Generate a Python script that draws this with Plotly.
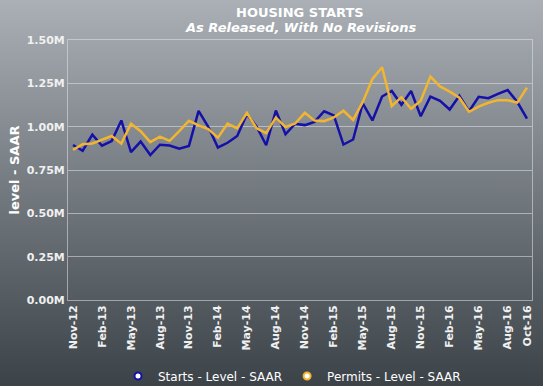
import base64
import plotly.graph_objects as go

months = ["Nov-12","Dec-12","Jan-13","Feb-13","Mar-13","Apr-13","May-13","Jun-13","Jul-13","Aug-13","Sep-13","Oct-13",
          "Nov-13","Dec-13","Jan-14","Feb-14","Mar-14","Apr-14","May-14","Jun-14","Jul-14","Aug-14","Sep-14","Oct-14",
          "Nov-14","Dec-14","Jan-15","Feb-15","Mar-15","Apr-15","May-15","Jun-15","Jul-15","Aug-15","Sep-15","Oct-15",
          "Nov-15","Dec-15","Jan-16","Feb-16","Mar-16","Apr-16","May-16","Jun-16","Jul-16","Aug-16","Sep-16","Oct-16"]

starts = [894, 861, 954, 890, 917, 1036, 853, 914, 836, 896, 891, 873,
          889, 1091, 999, 880, 907, 946, 1072, 1001, 893, 1093, 956, 1017,
          1009, 1028, 1089, 1065, 897, 926, 1135, 1036, 1174, 1206, 1126, 1206,
          1060, 1173, 1149, 1099, 1178, 1089, 1172, 1164, 1189, 1211, 1142, 1047]

permits = [866, 899, 903, 925, 946, 902, 1017, 974, 911, 943, 918, 974,
           1034, 1007, 986, 937, 1018, 990, 1080, 991, 963, 1052, 998, 1018,
           1080, 1035, 1032, 1053, 1092, 1039, 1143, 1275, 1343, 1119, 1170, 1103,
           1150, 1289, 1232, 1202, 1167, 1086, 1116, 1138, 1153, 1152, 1139, 1225]

tick_labels = ["Nov-12","Feb-13","May-13","Aug-13","Nov-13","Feb-14","May-14","Aug-14",
               "Nov-14","Feb-15","May-15","Aug-15","Nov-15","Feb-16","May-16","Aug-16","Oct-16"]
y_ticks = [0, 0.25, 0.5, 0.75, 1.0, 1.25, 1.5]
y_tick_text = ["0.00M","0.25M","0.50M","0.75M","1.00M","1.25M","1.50M"]

title_text = "HOUSING STARTS"
subtitle_text = "As Released, With No Revisions"

STARTS_COLOR = "#1510a8"
PERMITS_COLOR = "#f2b530"
FONT = "DejaVu Sans"

x_idx = list(range(len(months)))
tick_vals = [months.index(m) for m in tick_labels]

fig = go.Figure()
fig.add_trace(go.Scatter(x=x_idx, y=[v / 1000 for v in starts], mode="lines",
                         line=dict(color=STARTS_COLOR, width=2.5), showlegend=False,
                         hoverinfo="skip"))
fig.add_trace(go.Scatter(x=x_idx, y=[v / 1000 for v in permits], mode="lines",
                         line=dict(color=PERMITS_COLOR, width=2.5), showlegend=False,
                         hoverinfo="skip"))
# legend entries (marker only)
fig.add_trace(go.Scatter(x=[None], y=[None], mode="markers", name="Starts - Level - SAAR",
                         marker=dict(symbol="circle", size=7, color="white",
                                     line=dict(color=STARTS_COLOR, width=2))))
fig.add_trace(go.Scatter(x=[None], y=[None], mode="markers", name="Permits - Level - SAAR",
                         marker=dict(symbol="circle", size=7, color="white",
                                     line=dict(color=PERMITS_COLOR, width=2))))

W, H = 543, 386
L, R, T, B = 68, 11, 40, 86
pw, ph = W - L - R, H - T - B
svg = (f'<svg xmlns="http://www.w3.org/2000/svg" width="{W}" height="{H}" viewBox="0 0 {W} {H}" preserveAspectRatio="none">'
       '<defs><linearGradient id="g" x1="0" y1="0" x2="0" y2="1">'
       '<stop offset="0" stop-color="#aab0b5"/><stop offset="1" stop-color="#3b4248"/>'
       f'</linearGradient></defs><rect width="{W}" height="{H}" fill="url(#g)"/></svg>')
src = "data:image/svg+xml;base64," + base64.b64encode(svg.encode()).decode()

def py(pix):
    """pixel y from top -> paper y"""
    return (H - B - pix) / ph

def px(pix):
    return (pix - L) / pw

grid = "rgba(225,228,232,0.55)"
fig.update_layout(
    width=W, height=H,
    margin=dict(l=L, r=R, t=T, b=B, autoexpand=False),
    paper_bgcolor="#70777d",
    plot_bgcolor="rgba(0,0,0,0)",
    font=dict(family=FONT, color="white"),
    images=[dict(source=src, xref="paper", yref="paper",
                 x=-L / pw, y=1 + T / ph, sizex=W / pw, sizey=H / ph,
                 xanchor="left", yanchor="top", sizing="stretch", layer="below")],
    annotations=[
        dict(text="<b>" + title_text + "</b>", xref="paper", yref="paper", x=0.5, y=py(13),
             xanchor="center", yanchor="middle", showarrow=False,
             font=dict(family=FONT, size=13, color="white")),
        dict(text="<b><i>" + subtitle_text + "</i></b>", xref="paper", yref="paper", x=0.5, y=py(28),
             xanchor="center", yanchor="middle", showarrow=False,
             font=dict(family=FONT, size=13, color="white")),
    ],
    xaxis=dict(range=[-0.52, len(months) - 1 + 0.52], tickmode="array",
               tickvals=tick_vals, ticktext=tick_labels, tickangle=-90,
               tickfont=dict(family=FONT, size=11, color="#f0f0f0", weight="bold"),
               showgrid=False, zeroline=False, showline=True, mirror=True,
               linecolor=grid, linewidth=1, ticks="", automargin=False),
    yaxis=dict(range=[0, 1.5], tickmode="array", tickvals=y_ticks, ticktext=y_tick_text,
               tickfont=dict(family=FONT, size=11, color="#f0f0f0", weight="bold"),
               showgrid=True, gridcolor=grid, gridwidth=1, zeroline=False,
               showline=True, mirror=True, linecolor=grid, linewidth=1, automargin=False,
               title=dict(text="<b>level - SAAR</b>", standoff=4,
                          font=dict(family=FONT, size=13, color="white"))),
    legend=dict(orientation="h", x=px(292), xref="paper",
                xanchor="center", y=py(376), yref="paper", yanchor="middle",
                font=dict(family=FONT, size=12, color="white"),
                bgcolor="rgba(0,0,0,0)", itemwidth=30),
)

fig.write_html("out.html", config={"displayModeBar": False},
               post_script="document.body.style.margin='0';")
